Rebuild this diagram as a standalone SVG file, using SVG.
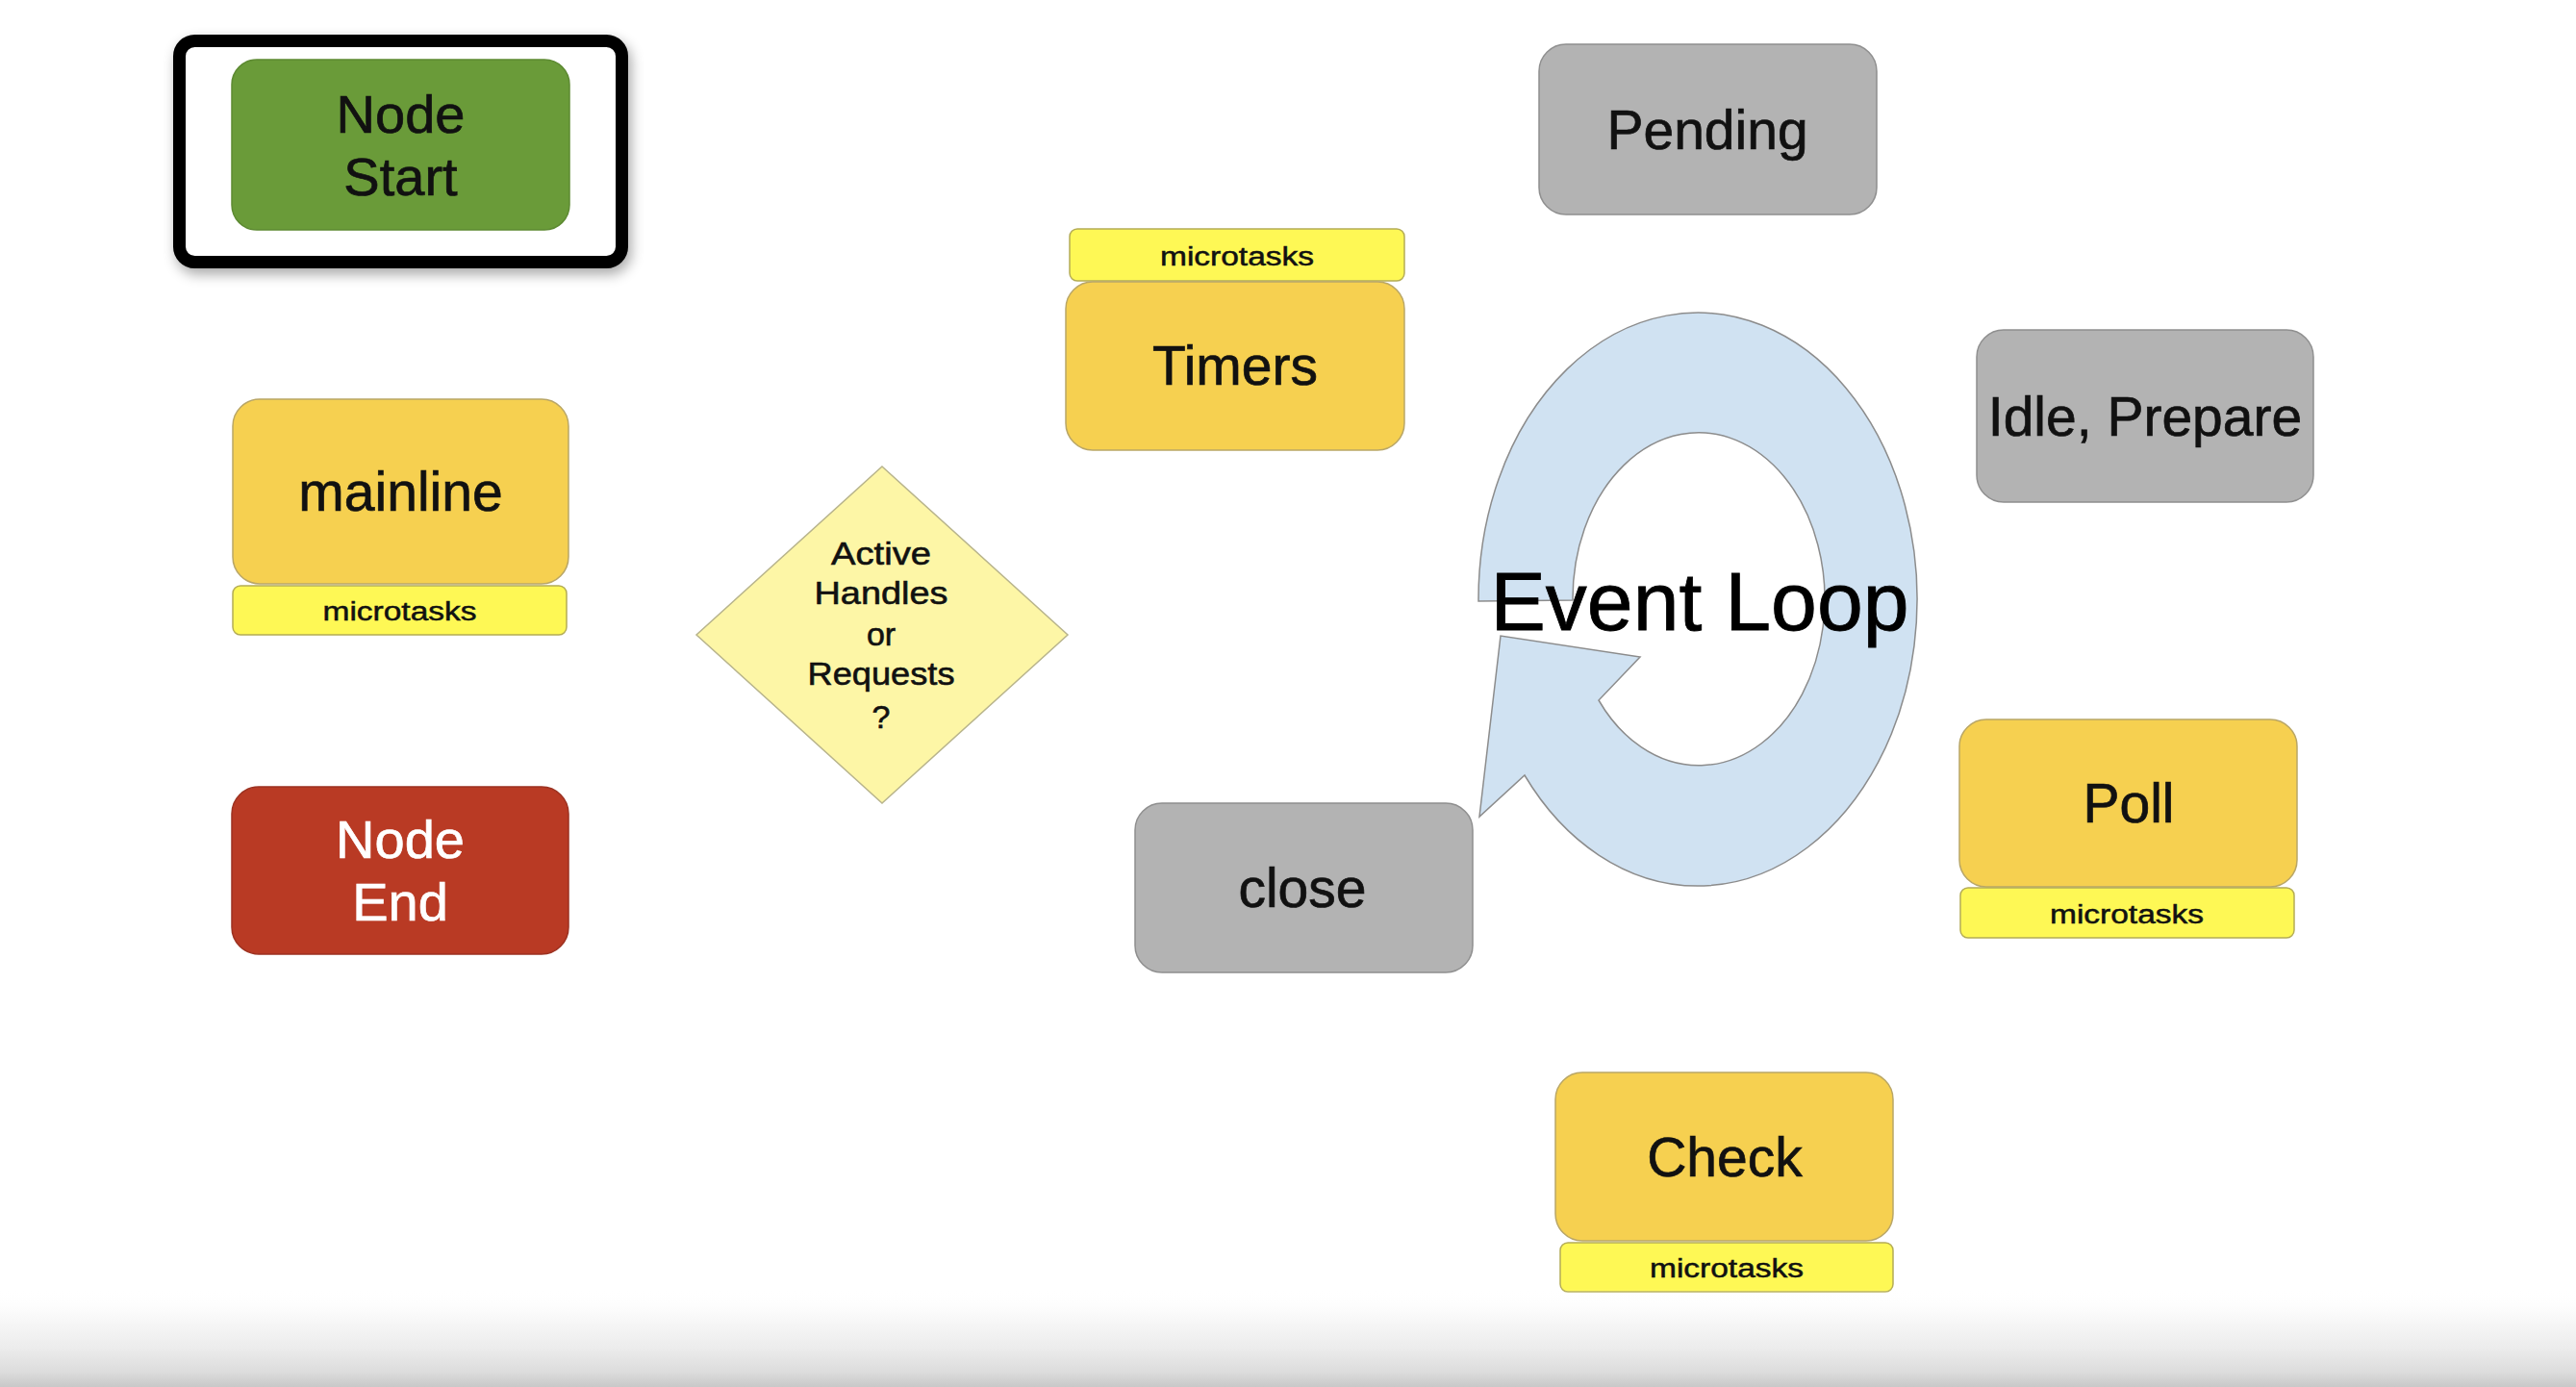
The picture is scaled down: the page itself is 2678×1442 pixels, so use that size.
<svg xmlns="http://www.w3.org/2000/svg" width="2678" height="1442" viewBox="0 0 2678 1442">
<defs>
<style>
.lbl{font-family:"Liberation Sans",Arial,sans-serif;font-size:57px;fill:#111;stroke:#111;stroke-width:0.7;text-anchor:middle}
.big{font-family:"Liberation Sans",Arial,sans-serif;font-size:56px;fill:#111;stroke:#111;stroke-width:0.7;text-anchor:middle}
.wht{fill:#ffffff;stroke:#ffffff}
.mt{font-family:"Liberation Sans",Arial,sans-serif;font-size:27px;fill:#111;stroke:#111;stroke-width:0.5;text-anchor:middle}
.dq{font-family:"Liberation Sans",Arial,sans-serif;font-size:34px;fill:#111;stroke:#111;stroke-width:0.6;text-anchor:middle}
.yel{fill:#f6d050;stroke:#b9a666;stroke-width:1.5}
.gry{fill:#b3b3b3;stroke:#8f8f8f;stroke-width:1.5}
.mic{fill:#fef855;stroke:#b4ac55;stroke-width:1.5}
</style>
<filter id="sh" x="-20%" y="-20%" width="140%" height="150%">
<feGaussianBlur in="SourceAlpha" stdDeviation="7"/>
<feOffset dx="3" dy="6" result="b"/>
<feComponentTransfer><feFuncA type="linear" slope="0.35"/></feComponentTransfer>
<feMerge><feMergeNode/><feMergeNode in="SourceGraphic"/></feMerge>
</filter>
<linearGradient id="fade" x1="0" y1="0" x2="0" y2="1">
<stop offset="0" stop-color="#ffffff" stop-opacity="0"/>
<stop offset="0.3" stop-color="#f8f8f8"/>
<stop offset="0.6" stop-color="#ececec"/>
<stop offset="0.85" stop-color="#dcdcdc"/>
<stop offset="1" stop-color="#c8c8c8"/>
</linearGradient>
</defs>
<rect width="2678" height="1442" fill="#ffffff"/>

<g id="connectors">
<g id="event-loop">
<path d="M 1537 625 A 228 298 0 1 1 1585 806 L 1538 849 L 1560 661 L 1705 683 L 1662 728 A 131 173 0 1 0 1635 624 Z" fill="#d0e2f2" stroke="#8c8c8c" stroke-width="1.5"/>
<text x="1767" y="655" font-family="Liberation Sans, Arial, sans-serif" font-size="86" fill="#000" stroke="#000" stroke-width="0.8" text-anchor="middle">Event Loop</text>
</g>
</g>

<g id="node-start">
<rect x="186.5" y="42.5" width="460" height="230" rx="16" fill="#ffffff" stroke="#000" stroke-width="13" filter="url(#sh)"/>
<rect x="241" y="62" width="351" height="177" rx="26" fill="#6a9b39" stroke="#5d8a32" stroke-width="1.5"/>
<text class="big" x="416.5" y="138">Node</text>
<text class="big" x="416.5" y="203">Start</text>
</g>

<g id="mainline">
<rect class="yel" x="242" y="415" width="349" height="192" rx="28"/>
<text class="lbl" x="416.5" y="531">mainline</text>
<rect class="mic" x="242" y="609" width="347" height="51" rx="8"/>
<text class="mt" x="415.5" y="645" textLength="160" lengthAdjust="spacingAndGlyphs">microtasks</text>
</g>

<g id="node-end">
<rect x="241" y="818" width="350" height="174" rx="28" fill="#b93a24" stroke="#9c3120" stroke-width="1.5"/>
<text class="big wht" x="416" y="892">Node</text>
<text class="big wht" x="416" y="957">End</text>
</g>

<g id="decision">
<polygon points="917,485 1110,660 917,835 724,660" fill="#fdf6a6" stroke="#b8b48c" stroke-width="1.5"/>
<text class="dq" x="916" y="587" textLength="104" lengthAdjust="spacingAndGlyphs">Active</text>
<text class="dq" x="916" y="628" textLength="139" lengthAdjust="spacingAndGlyphs">Handles</text>
<text class="dq" x="916" y="671">or</text>
<text class="dq" x="916" y="712" textLength="153" lengthAdjust="spacingAndGlyphs">Requests</text>
<text class="dq" x="916" y="757">?</text>
</g>

<g id="timers">
<rect class="mic" x="1112" y="238" width="348" height="54" rx="8"/>
<text class="mt" x="1286" y="276" textLength="160" lengthAdjust="spacingAndGlyphs">microtasks</text>
<rect class="yel" x="1108" y="293" width="352" height="175" rx="28"/>
<text class="lbl" x="1284" y="400">Timers</text>
</g>

<g id="pending">
<rect class="gry" x="1600" y="46" width="351" height="177" rx="28"/>
<text class="lbl" x="1775" y="155">Pending</text>
</g>

<g id="idle-prepare">
<rect class="gry" x="2055" y="343" width="350" height="179" rx="28"/>
<text class="lbl" x="2230" y="453">Idle, Prepare</text>
</g>

<g id="poll">
<rect class="yel" x="2037" y="748" width="351" height="174" rx="28"/>
<text class="lbl" x="2213" y="855">Poll</text>
<rect class="mic" x="2038" y="923" width="347" height="52" rx="8"/>
<text class="mt" x="2211" y="960" textLength="160" lengthAdjust="spacingAndGlyphs">microtasks</text>
</g>

<g id="close">
<rect class="gry" x="1180" y="835" width="351" height="176" rx="28"/>
<text class="lbl" x="1354" y="943">close</text>
</g>

<g id="check">
<rect class="yel" x="1617" y="1115" width="351" height="175" rx="28"/>
<text class="lbl" x="1793" y="1223">Check</text>
<rect class="mic" x="1622" y="1292" width="346" height="51" rx="8"/>
<text class="mt" x="1795" y="1328" textLength="160" lengthAdjust="spacingAndGlyphs">microtasks</text>
</g>

<rect x="0" y="1340" width="2678" height="102" fill="url(#fade)"/>
</svg>
